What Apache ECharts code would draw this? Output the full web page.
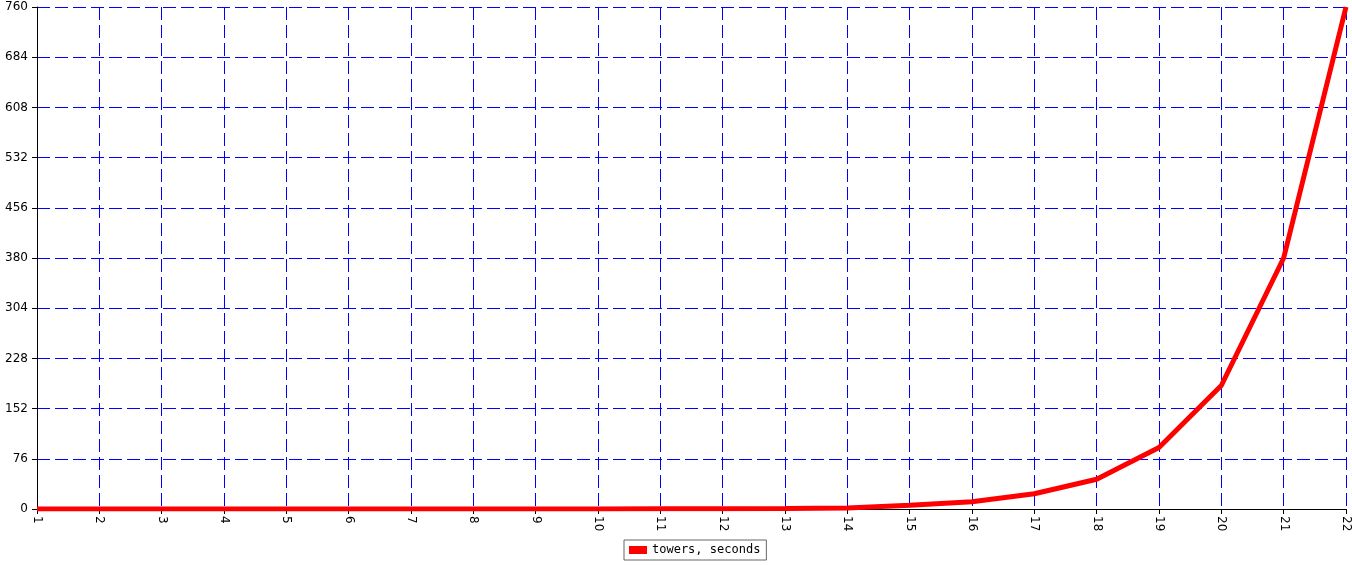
<!DOCTYPE html>
<html>
<head>
<meta charset="utf-8">
<script src="https://cdn.jsdelivr.net/npm/echarts@6/dist/echarts.min.js"></script>
<style>
html,body{margin:0;padding:0;background:#fff;}
#chart{width:1352px;height:565px;}
</style>
</head>
<body>
<div id="chart"></div>
<script>
const categories = ['1','2','3','4','5','6','7','8','9','10','11','12','13','14','15','16','17','18','19','20','21','22'];
const seriesName = 'towers, seconds';
const towersSeconds = [0.0002, 0.0004, 0.0007, 0.0015, 0.003, 0.006, 0.012, 0.024, 0.047, 0.095, 0.19, 0.37, 0.74, 1.5, 5.5, 11, 23, 45, 93, 187, 380, 760];
const yMin = 0, yMax = 760, yInterval = 76;

const chart = echarts.init(document.getElementById('chart'));
chart.setOption({
  animation: false,
  backgroundColor: '#ffffff',
  grid: {left: 37, right: 6, top: 7, bottom: 56, containLabel: false},
  legend: {
    bottom: 5,
    left: 624,
    data: [seriesName],
    itemWidth: 18,
    itemHeight: 8,
    itemGap: 5,
    padding: [4, 6, 4, 5],
    borderColor: '#666',
    borderWidth: 1,
    borderRadius: 0,
    icon: 'rect',
    textStyle: {fontFamily: 'DejaVu Sans Mono', fontSize: 12, color: '#000'}
  },
  xAxis: {
    type: 'category',
    data: categories,
    boundaryGap: false,
    axisLine: {lineStyle: {color: '#000', width: 1}},
    axisTick: {show: true, length: 5, alignWithLabel: true, lineStyle: {color: '#000'}},
    axisLabel: {rotate: -90, margin: 7, fontFamily: 'DejaVu Sans', fontSize: 12, color: '#000'},
    splitLine: {show: true, lineStyle: {color: '#0000ff', type: [13, 5], width: 1}}
  },
  yAxis: {
    type: 'value',
    min: yMin,
    max: yMax,
    interval: yInterval,
    axisLine: {show: true, lineStyle: {color: '#000', width: 1}},
    axisTick: {show: true, length: 5, lineStyle: {color: '#000'}},
    axisLabel: {margin: 9, fontFamily: 'DejaVu Sans', fontSize: 12, color: '#000'},
    splitLine: {show: true, lineStyle: {color: '#0000ff', type: [13, 5], width: 1}}
  },
  series: [{
    name: seriesName,
    type: 'line',
    data: towersSeconds,
    showSymbol: false,
    symbol: 'none',
    lineStyle: {color: '#ff0000', width: 5},
    itemStyle: {color: '#ff0000'},
    clip: true
  }]
});
</script>
</body>
</html>
